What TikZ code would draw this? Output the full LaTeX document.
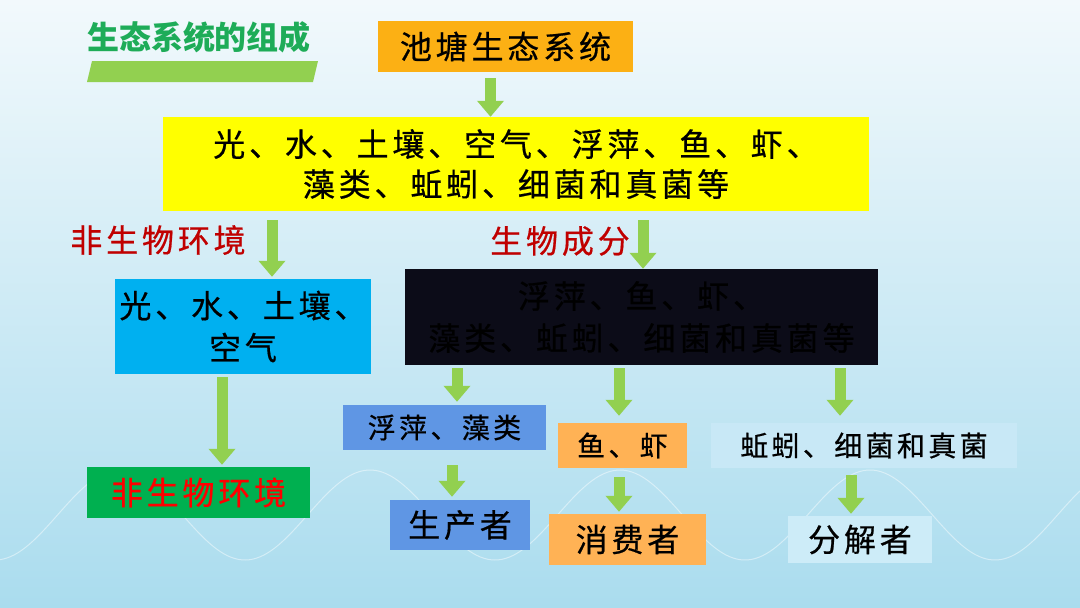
\documentclass[tikz,border=0pt]{standalone}
\usepackage{fontspec}
\usetikzlibrary{arrows.meta}
\newfontfamily\cjk[LetterSpace=12,FakeBold=0.6]{Noto Sans CJK SC}
\newfontfamily\cjktitle{Noto Sans CJK SC}
\definecolor{bgtop}{RGB}{242,249,252}
\definecolor{bgmid}{RGB}{216,239,247}
\definecolor{bgbot}{RGB}{170,220,238}
\definecolor{garr}{RGB}{146,208,80}
\definecolor{titlegreen}{RGB}{30,172,88}
\definecolor{bandgreen}{RGB}{146,208,80}
\definecolor{pondorange}{RGB}{252,176,20}
\definecolor{yel}{RGB}{255,255,0}
\definecolor{skyblue}{RGB}{0,176,240}
\definecolor{darkbox}{RGB}{12,12,24}
\definecolor{boxgreen}{RGB}{0,176,80}
\definecolor{cornblue}{RGB}{95,150,228}
\definecolor{lorange}{RGB}{255,178,85}
\definecolor{paleblue}{RGB}{200,232,246}
\definecolor{paleblue2}{RGB}{205,236,248}
\definecolor{darkred}{RGB}{192,0,0}
\tikzset{
  box/.style={inner sep=0pt, align=center},
  bigtxt/.style={font=\cjk\fontsize{32}{42}\selectfont},
  smalltxt/.style={font=\cjk\fontsize{28}{36}\selectfont},
  garrow/.style={draw=garr, line width=11pt, -{Triangle[width=26pt,length=16pt]}},
}
\begin{document}
\begin{tikzpicture}[x=1pt,y=-1pt]
\useasboundingbox (0,0) rectangle (1080,608);
\shade[top color=bgtop, middle color=bgmid, bottom color=bgbot] (0,0) rectangle (1080,608);
% faint waves
\draw[white, opacity=0.45, line width=1pt, domain=0:1080, samples=300]
  plot (\x, {515 + 45*cos((\x-495)*1.44)});
% title
\node[font=\cjktitle\bfseries\fontsize{32}{36}\selectfont, text=titlegreen] (title) at (199,37) {生态系统的组成};
\fill[bandgreen] (92,61) -- (318,61) -- (313,82) -- (87,82) -- cycle;
% boxes
\node[box, bigtxt, fill=pondorange, minimum width=255pt, minimum height=51pt] (pond) at (505.5,46.5) {池塘生态系统};
\node[box, bigtxt, fill=yel, minimum width=706pt, minimum height=94pt] (all) at (516,164)
  {光、水、土壤、空气、浮萍、鱼、虾、\\[-2pt]藻类、蚯蚓、细菌和真菌等};
\node[bigtxt, text=darkred] (lblA) at (158,240) {非生物环境};
\node[bigtxt, text=darkred] (lblB) at (560,241) {生物成分};
\node[box, bigtxt, fill=skyblue, minimum width=256pt, minimum height=95pt] (abio) at (243,326.5)
  {光、水、土壤、\\空气};
\node[box, bigtxt, fill=darkbox, text=black, minimum width=473pt, minimum height=96pt] (bio) at (641.5,317)
  {浮萍、鱼、虾、\\藻类、蚯蚓、细菌和真菌等};
\node[box, bigtxt, fill=boxgreen, text=red, minimum width=223pt, minimum height=51pt] (abio2) at (198.5,492.5) {非生物环境};
\node[box, smalltxt, fill=cornblue, minimum width=203pt, minimum height=45pt] (fpzl) at (444.5,427.5) {浮萍、藻类};
\node[box, bigtxt, fill=cornblue, minimum width=140pt, minimum height=50pt] (scz) at (460,525) {生产者};
\node[box, smalltxt, fill=lorange, minimum width=129pt, minimum height=45pt] (yuxia) at (622.5,445.5) {鱼、虾};
\node[box, bigtxt, fill=lorange, minimum width=157pt, minimum height=51pt] (xfz) at (627.5,539.5) {消费者};
\node[box, smalltxt, fill=paleblue, minimum width=306pt, minimum height=45pt] (qyxj) at (864,445.5) {蚯蚓、细菌和真菌};
\node[box, bigtxt, fill=paleblue2, minimum width=144pt, minimum height=47pt] (fjz) at (860,539.5) {分解者};
% arrows
\draw[garrow, shorten <=6pt] ([xshift=-15pt]pond.south) -- ([xshift=-15pt]pond.south |- all.north);
\draw[garrow, shorten <=9pt, shorten >=2pt] ([xshift=29pt]abio.north |- all.south) -- ([xshift=29pt]abio.north);
\draw[garrow, shorten <=9pt] ([xshift=1.5pt]bio.north |- all.south) -- ([xshift=1.5pt]bio.north);
\draw[garrow, shorten <=3pt, shorten >=2pt] ([xshift=-21pt]abio.south) -- ([xshift=23.5pt]abio2.north);
\draw[garrow, shorten <=3pt, shorten >=3pt] ([xshift=12.5pt]fpzl.north |- bio.south) -- ([xshift=12.5pt]fpzl.north);
\draw[garrow, shorten <=3pt, shorten >=7pt] ([xshift=-3.5pt]yuxia.north |- bio.south) -- ([xshift=-3.5pt]yuxia.north);
\draw[garrow, shorten <=3pt, shorten >=7pt] ([xshift=-24pt]qyxj.north |- bio.south) -- ([xshift=-24pt]qyxj.north);
\draw[garrow, shorten <=15pt, shorten >=3pt] ([xshift=-8pt]scz.north |- fpzl.south) -- ([xshift=-8pt]scz.north);
\draw[garrow, shorten <=9pt, shorten >=2pt] ([xshift=-8.5pt]xfz.north |- yuxia.south) -- ([xshift=-8.5pt]xfz.north);
\draw[garrow, shorten <=7pt, shorten >=2pt] ([xshift=-9pt]fjz.north |- qyxj.south) -- ([xshift=-9pt]fjz.north);
\end{tikzpicture}
\end{document}
